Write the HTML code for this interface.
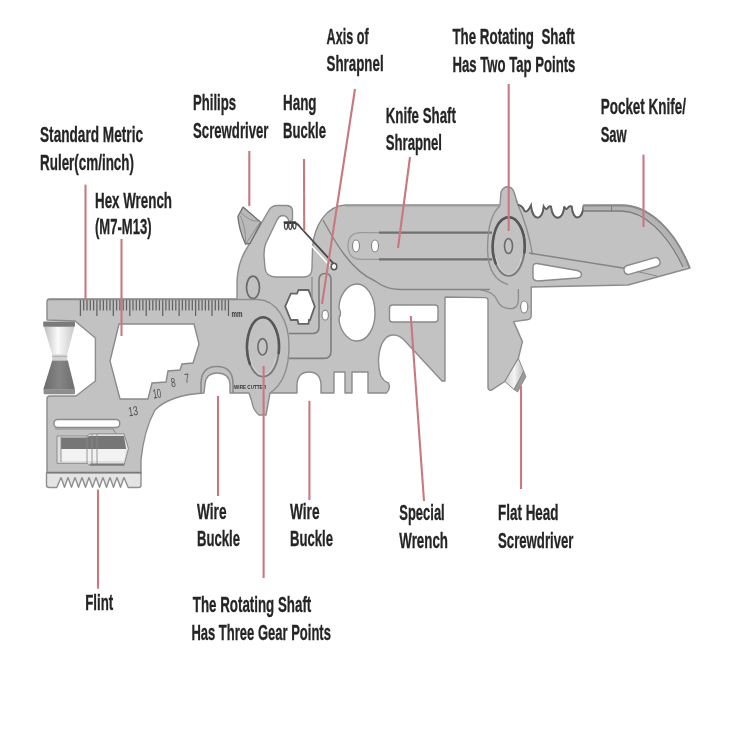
<!DOCTYPE html>
<html><head><meta charset="utf-8">
<style>
html,body{margin:0;padding:0;background:#fff;}
body{width:750px;height:750px;overflow:hidden;position:relative;}
svg{position:absolute;left:0;top:0;filter:blur(0.45px);}
.t{font-family:"Liberation Sans",sans-serif;font-size:21.5px;fill:#252525;font-weight:bold;stroke:#252525;stroke-width:0.3px;}
.r{stroke:#c97880;stroke-width:2.1;fill:none;}
.hole{fill:#fff;stroke:#8a8a8a;stroke-width:1.4;}
</style></head>
<body>
<svg width="750" height="750" viewBox="0 0 750 750">
<rect width="750" height="750" fill="#fff"/>
<g id="tool">
<path fill="#c2c2c2" stroke="#8c8c8c" stroke-width="1.4" stroke-linejoin="round" d="
M47,302 Q47,299 50,299 L237,299 L237,280 Q238,262 247,248 L269,210 Q272,205.5 277,205.5 L287,205.5 Q292.5,206 292.5,211 L292.5,220
L289,222 Q288,215.5 282,215.5 Q279,216 277,220 L266,243 Q264,248 264,256 L265,268 Q266,277 276,277 L304,277 Q312,277 312,268 L312.5,248
C314,226 326,206 345,205 L500,205 L501,192 Q503,186.7 508,186.7 Q512,187 514,192 L518,205
L518,205 Q522,205 524.5,211 Q527.5,213 531,205.5 C532.5,221.5 542.5,221.5 543.7,206.5 Q546,210.5 547.7,208 Q549.5,205.5 551,206.5 C552.5,221.5 563,221.5 564.3,206.5 Q566,210.5 567.7,208 Q569.5,205.5 571.7,206.5 C573,221.5 582.5,221.5 583.7,205
L622,205 C650,205 676,232 690,268 L628,285 L531.2,287 L531.2,316 Q531,319.5 527,319.8 L513.6,321.6 L522.4,341.6 L518.4,358.4 L504.8,381.5 L491,390.4 Q488,390.4 488,387 L488,300 Q488,297.6 485,297.6 L445,297 L445,381 L442,381 L405,341
C399,334 390,333 385,339 C378,347 377,364 380.5,375 Q383,381 388.5,383 Q391,389 386.5,393 L368,393 L368,372 L352,372 L352,393 L345,393 L345,372 L334,372 L334,393 L321,393
L321,384 Q320,372 309,372 Q298,372 297,384 L297,393 L270,393 L266,415 L259,415 Q253,410 252,402 L249,393 L230,393 L230,384 Q229,373 217,373 Q206,373 205,384 L204,393
Q170,395 155,410 Q144,430 141,460 L141,473 L47,473 L47,399 Q47,396 50,396 L76,396 L95.4,381 L95.4,338 L75,321 L47,320 Z"/>
<path class="hole" d="M119,324 L194,324 L199,344 L193,363 L182,364 L180,370 L168,371 L166,382 L152,383 L148,399 L120,399 L110,361 Z"/>
<path stroke="#626262" stroke-width="1.25" fill="none" d="M80.4,300V316M83.7,300V310.5M87.0,300V310.5M90.3,300V310.5M93.6,300V310.5M96.9,300V316M100.1,300V310.5M103.4,300V310.5M106.7,300V310.5M110.0,300V310.5M113.3,300V316M116.6,300V310.5M119.9,300V310.5M123.2,300V310.5M126.5,300V310.5M129.8,300V316M133.0,300V310.5M136.3,300V310.5M139.6,300V310.5M142.9,300V310.5M146.2,300V316M149.5,300V310.5M152.8,300V310.5M156.1,300V310.5M159.4,300V310.5M162.7,300V316M165.9,300V310.5M169.2,300V310.5M172.5,300V310.5M175.8,300V310.5M179.1,300V316M182.4,300V310.5M185.7,300V310.5M189.0,300V310.5M192.3,300V310.5M195.6,300V316M198.8,300V310.5M202.1,300V310.5M205.4,300V310.5M208.7,300V310.5M212.0,300V316M215.3,300V310.5M218.6,300V310.5M221.9,300V310.5M225.2,300V310.5M228.5,300V316"/>
<line x1="47" y1="299.5" x2="237" y2="299.5" stroke="#8a8a8a" stroke-width="1.6"/>
<text x="231.5" y="316.5" font-family="Liberation Sans" font-size="9" font-weight="bold" fill="#3a3a3a" textLength="11" lengthAdjust="spacingAndGlyphs">mm</text>
<defs><linearGradient id="gl" x1="0" x2="1"><stop offset="0" stop-color="#bdbdbd"/><stop offset="0.45" stop-color="#fbfbfb"/><stop offset="1" stop-color="#c9c9c9"/></linearGradient><linearGradient id="gd" x1="0" x2="1"><stop offset="0" stop-color="#6a6a6a"/><stop offset="0.5" stop-color="#858585"/><stop offset="1" stop-color="#6e6e6e"/></linearGradient><linearGradient id="gf1" x1="0" y1="0" x2="0" y2="1"><stop offset="0" stop-color="#777"/><stop offset="0.5" stop-color="#8a8a8a"/><stop offset="0.55" stop-color="#f2f2f2"/><stop offset="1" stop-color="#d0d0d0"/></linearGradient><linearGradient id="gfh" x1="0" x2="1"><stop offset="0" stop-color="#cfcfcf"/><stop offset="0.5" stop-color="#f4f4f4"/><stop offset="1" stop-color="#bdbdbd"/></linearGradient></defs>
<path fill="url(#gl)" d="M44,326.8 L74.4,326.8 L67.2,354.4 L52.2,354.4 Z"/>
<rect x="52.2" y="354.4" width="15" height="6" fill="#d2d2d2"/>
<line x1="52.2" y1="356.5" x2="67.2" y2="356.5" stroke="#a8a8a8" stroke-width="0.8"/>
<path fill="url(#gd)" d="M52.2,360.4 L67.8,360.4 L75,389.8 L43.2,389.8 Z"/>
<rect x="43.2" y="321.4" width="31.8" height="5.4" rx="1" fill="#7b7b7b"/>
<rect x="43.6" y="389.6" width="31.4" height="4.6" rx="1" fill="#8d8d8d"/>
<path fill="#b9b9b9" stroke="#6f6f6f" stroke-width="1.3" stroke-linejoin="round" d="M237.9,216.5 L243,207.1 L261,222.5 L250,243.5 L245.4,244 Q239,230 237.9,216.5 Z"/>
<path fill="none" stroke="#8a8a8a" stroke-width="0.9" d="M240.3,212 Q250,222 258,221 M240.5,216 Q246,228 245.6,243 M260,222.5 L245.6,244"/>
<path fill="none" stroke="#474747" stroke-width="1.8" stroke-linecap="round" d="M293,222.5 Q297.5,223 300.5,227.5 L333,263"/>
<path fill="none" stroke="#ffffff" stroke-width="1.6" d="M297.5,230.5 L330,266"/>
<path fill="none" stroke="#3f3f3f" stroke-width="2.6" stroke-linecap="round" d="M284.8,222.6 L295,222.6"/>
<path fill="none" stroke="#4a4a4a" stroke-width="1.3" d="M284.6,223 Q284,229.5 286.2,229.5 Q287.8,229.5 287.6,223 M288.8,223 Q288.4,229.5 290.4,229.5 Q292,229.5 291.8,223 M293,223 Q292.8,229 294.6,229 Q296,229 296,224"/>
<ellipse cx="334" cy="266.5" rx="2.8" ry="3.2" fill="#fff" stroke="#555" stroke-width="1.4"/>
<ellipse cx="253" cy="287.4" rx="6.5" ry="11.2" fill="none" stroke="#6a6a6a" stroke-width="1.7"/>
<path style="fill:#fff;stroke:#666;stroke-width:1.8" d="M285.2,306.4 L290.8,293.6 L297,293.6 L298.5,290 L308.5,290 L310,293.6 L314.8,306.4 L310,320 L309,320 L308.5,323.8 L298.5,323.8 L297.5,320 L290.8,320 Z"/>
<path fill="none" stroke="#7e7e7e" stroke-width="1.6" d="M319,327 L319,280 Q319,273.5 325.5,273.5 Q331,273.5 331,280 L331,351 Q331,358.4 324,358.4 L289,358.4"/>
<path fill="none" stroke="#7a7a7a" stroke-width="1.6" d="M289,333.5 L313,333.5 Q319,333.5 319,327"/>
<path fill="none" stroke="#8e8e8e" stroke-width="1.3" d="M312,277 L312,300"/>
<ellipse cx="325.2" cy="315.2" rx="3.2" ry="5" fill="#fff" stroke="#8a8a8a" stroke-width="1.2"/>
<path class="hole" d="M357,284 C367,284 375,297 375,313 C375,329 367,341 357,341 C347,341 339,329 339,318 Q342,313 339,308 C339,296 347,284 357,284 Z"/>
<rect class="hole" x="389.5" y="305" width="48.5" height="17" rx="3"/>
<ellipse cx="524.2" cy="307" rx="3.6" ry="6" fill="#fff" stroke="#8a8a8a" stroke-width="1.2"/>
<path fill="none" stroke="#8e8e8e" stroke-width="1.4" d="M480,289.6 Q494,292 497,300 Q500,308 510,308.8 Q518,309 518.4,300 L518.4,289"/>
<path fill="url(#gfh)" stroke="#8a8a8a" stroke-width="1" d="M518.4,358.4 L523.8,371.5 L514,389.5 L504.8,381.5 Z"/>
<path fill="#9a9a9a" stroke="#858585" stroke-width="0.8" d="M523.8,371.5 L526,376.5 L517.6,392 L514,389.5 Z"/>
<path fill="none" stroke="#8e8e8e" stroke-width="1.4" d="M237,299.5 L258,299.5 C276,300 289,320 289,346 C289,370 282,385 270,393"/>
<ellipse cx="263" cy="347" rx="16" ry="29.7" fill="none" stroke="#7a7a7a" stroke-width="1.8"/>
<path fill="none" stroke="#575757" stroke-width="2.6" stroke-linecap="round" d="M249.89,364.04 A16,29.7 0 1 1 278.65,353.17"/>
<path fill="none" stroke="#d4d4d4" stroke-width="1" d="M275.69,357.89 A13.5,26 0 0 1 250.31,357.89"/>
<ellipse cx="262.5" cy="346.8" rx="4.6" ry="8.2" fill="#c4c4c4" stroke="#6a6a6a" stroke-width="1.6"/>
<path fill="none" stroke="#8a8a8a" stroke-width="1.6" d="M201,393 L201,384 Q201,366.5 217,366.5 Q233,366.5 233,384 L233,393"/>
<text x="234" y="389" font-family="Liberation Sans" font-size="6" font-weight="bold" fill="#333" textLength="32" lengthAdjust="spacingAndGlyphs">WIRE CUTTER</text>
<g font-family="Liberation Sans" font-size="13" fill="#505050" lengthAdjust="spacingAndGlyphs"><text x="128" y="415.5" textLength="9.5" lengthAdjust="spacingAndGlyphs" transform="rotate(-8 133 409)">13</text><text x="152.5" y="398" textLength="8.5" lengthAdjust="spacingAndGlyphs" transform="rotate(-8 157 392)">10</text><text x="170.8" y="387" textLength="4.6" lengthAdjust="spacingAndGlyphs" transform="rotate(-8 173 382)">8</text><text x="184.5" y="382.8" textLength="4.6" lengthAdjust="spacingAndGlyphs" transform="rotate(-8 187 377)">7</text></g>
<rect class="hole" x="54" y="419.5" width="65.7" height="8" rx="3.5"/>
<path fill="none" stroke="#8f8f8f" stroke-width="1.2" d="M55,429 L113,429 L116,433.5"/>
<path fill="#e0e0e0" stroke="#8c8c8c" stroke-width="1" d="M57,436 L87,436 L90,433.8 L124,433.8 L128.5,448.5 L124,465.5 L90,465.5 L87,463.3 L57,463.3 Z"/>
<path fill="#767676" d="M61,437.5 L87,437.5 L89,436 L124,436 L126,449 L61,449 Z"/>
<path fill="#f2f2f2" d="M61,449 L126,449 L124,461 L61,461 Z"/>
<path fill="none" stroke="#8a8a8a" stroke-width="0.9" d="M61,437 V462 M87,436 V463.5 M92,434 V465 M97,434 V465"/>
<line x1="90" y1="464.3" x2="124" y2="464.3" stroke="#7a7a7a" stroke-width="1.5"/>
<path fill="#e4e4e4" stroke="#8f8f8f" stroke-width="1.4" stroke-linejoin="round" d="M46.5,472.6 L141,472.6 L141,485 Q141,487.5 138.5,487.5 L128.2,487.5 L124,477.6 L120.5,487.3 L117.0,477.6 L113.5,487.3 L110.0,477.6 L106.5,487.3 L103.0,477.6 L99.5,487.3 L96.0,477.6 L92.5,487.3 L89.0,477.6 L85.5,487.3 L82.0,477.6 L78.5,487.3 L75.0,477.6 L71.5,487.3 L68.0,477.6 L64.5,487.3 L61.0,477.6 L56.8,487.5 L49.5,487.5 Q46.5,487.5 46.5,485 Z"/>
<line x1="47" y1="472.6" x2="141" y2="472.6" stroke="#7a7a7a" stroke-width="1.6"/>
<path fill="none" stroke="#858585" stroke-width="1.4" d="M323,220 C334,240 350,270 375,281 Q385,289 400,289.5 L490,289.5"/>
<path fill="none" stroke="#9a9a9a" stroke-width="1.2" d="M379,232.6 L361,232.6 Q348,232.6 348,246 Q348,259.3 361,259.3 L379,259.3"/>
<path fill="none" stroke="#707070" stroke-width="2.2" d="M379,232.6 L492,232.6 M379,259.3 L492,259.3"/>
<ellipse cx="356" cy="246" rx="3.5" ry="6" fill="#fff" stroke="#888" stroke-width="1.2"/>
<ellipse cx="375" cy="246" rx="3.5" ry="6" fill="#fff" stroke="#888" stroke-width="1.2"/>
<line x1="345" y1="205.8" x2="500" y2="205.8" stroke="#9a9a9a" stroke-width="1.4"/>
<path fill="none" stroke="#8e8e8e" stroke-width="1.4" d="M500,206 C490,214 487.5,232 487.6,250 C488,270 496,281 508,284.5 M516,200 C524,218 530,238 532.5,255"/>
<ellipse cx="508.7" cy="246.5" rx="16" ry="29.3" fill="none" stroke="#7a7a7a" stroke-width="1.8"/>
<path fill="none" stroke="#575757" stroke-width="2.6" stroke-linecap="round" d="M495.59,263.31 A16,29.3 0 1 1 524.35,252.59"/>
<path fill="none" stroke="#d4d4d4" stroke-width="1" d="M521.39,257.39 A13.5,26 0 0 1 496.01,257.39"/>
<ellipse cx="508.5" cy="246" rx="4" ry="7.5" fill="#c4c4c4" stroke="#6a6a6a" stroke-width="1.6"/>
<path fill="none" stroke="#5e5e5e" stroke-width="1.9" d="M518,205 L518,205 Q522,205 524.5,211 Q527.5,213 531,205.5 C532.5,221.5 542.5,221.5 543.7,206.5 Q546,210.5 547.7,208 Q549.5,205.5 551,206.5 C552.5,221.5 563,221.5 564.3,206.5 Q566,210.5 567.7,208 Q569.5,205.5 571.7,206.5 C573,221.5 582.5,221.5 583.7,205"/>
<path fill="none" stroke="#b3b3b3" stroke-width="5" d="M583.5,208 L622,208 C647,208 671,231 686.5,266.5"/>
<path fill="none" stroke="#8a8a8a" stroke-width="1.6" d="M583.5,205.8 L622,205.6 C650,205.6 676,232 689.5,268"/>
<path fill="none" stroke="#7c7c7c" stroke-width="1.3" d="M583.5,211 L621,211 C644,211 667,233 683,267"/>
<line x1="611.6" y1="205" x2="611.6" y2="211.5" stroke="#7c7c7c" stroke-width="1"/>
<path fill="none" stroke="#858585" stroke-width="1.4" d="M529,253 L626,268.5"/>
<path class="hole" d="M537,263.5 L577,270.5 Q581.5,271.5 581.5,274.5 Q581.5,277.5 577,278 L538,281 Q533,281 533,276.5 L533,267.5 Q533,263 537,263.5 Z"/>
<path class="hole" transform="rotate(-16 642 266)" d="M628,261.5 L656,261.5 Q660.5,261.5 660.5,266 Q660.5,270.5 656,270.5 L628,270.5 Q623.5,270.5 623.5,266 Q623.5,261.5 628,261.5 Z"/>
<path fill="none" stroke="#888" stroke-width="1" d="M637,271.5 L657,276"/>
</g>
<g class="t">
<text x="40" y="142" textLength="103" lengthAdjust="spacingAndGlyphs">Standard Metric</text>
<text x="40" y="170" textLength="94" lengthAdjust="spacingAndGlyphs">Ruler(cm/inch)</text>
<text x="95" y="208" textLength="77" lengthAdjust="spacingAndGlyphs">Hex Wrench</text>
<text x="95" y="234" textLength="56.5" lengthAdjust="spacingAndGlyphs">(M7-M13)</text>
<text x="193" y="110" textLength="43" lengthAdjust="spacingAndGlyphs">Philips</text>
<text x="193" y="138" textLength="75.5" lengthAdjust="spacingAndGlyphs">Screwdriver</text>
<text x="283" y="110" textLength="33.5" lengthAdjust="spacingAndGlyphs">Hang</text>
<text x="283" y="138" textLength="43" lengthAdjust="spacingAndGlyphs">Buckle</text>
<text x="326.6" y="44" textLength="42" lengthAdjust="spacingAndGlyphs">Axis of</text>
<text x="326.6" y="71" textLength="57" lengthAdjust="spacingAndGlyphs">Shrapnel</text>
<text x="385.7" y="123" textLength="70.3" lengthAdjust="spacingAndGlyphs">Knife Shaft</text>
<text x="385.7" y="150" textLength="56.3" lengthAdjust="spacingAndGlyphs">Shrapnel</text>
<text x="452.4" y="44" textLength="122.4" lengthAdjust="spacingAndGlyphs">The Rotating&#160; Shaft</text>
<text x="452.4" y="71.5" textLength="123" lengthAdjust="spacingAndGlyphs">Has Two Tap Points</text>
<text x="600.7" y="114" textLength="85.3" lengthAdjust="spacingAndGlyphs">Pocket Knife/</text>
<text x="600.7" y="142" textLength="26" lengthAdjust="spacingAndGlyphs">Saw</text>
<text x="197" y="518.5" textLength="29.5" lengthAdjust="spacingAndGlyphs">Wire</text>
<text x="197" y="546" textLength="43" lengthAdjust="spacingAndGlyphs">Buckle</text>
<text x="290" y="518.5" textLength="29.5" lengthAdjust="spacingAndGlyphs">Wire</text>
<text x="290" y="546" textLength="43" lengthAdjust="spacingAndGlyphs">Buckle</text>
<text x="192.8" y="612" textLength="118.5" lengthAdjust="spacingAndGlyphs">The Rotating Shaft</text>
<text x="191.4" y="640" textLength="139.5" lengthAdjust="spacingAndGlyphs">Has Three Gear Points</text>
<text x="85.2" y="610" textLength="28" lengthAdjust="spacingAndGlyphs">Flint</text>
<text x="399.3" y="520" textLength="45.4" lengthAdjust="spacingAndGlyphs">Special</text>
<text x="399.3" y="548" textLength="48.7" lengthAdjust="spacingAndGlyphs">Wrench</text>
<text x="498" y="520" textLength="60.5" lengthAdjust="spacingAndGlyphs">Flat Head</text>
<text x="498" y="548" textLength="75.5" lengthAdjust="spacingAndGlyphs">Screwdriver</text>
</g>
<g class="r">
<line x1="85.5" y1="184.6" x2="85.5" y2="299"/>
<line x1="121.5" y1="239" x2="121.5" y2="336"/>
<line x1="249.3" y1="151" x2="249.3" y2="206"/>
<line x1="304" y1="159" x2="304.2" y2="230.5"/>
<line x1="355" y1="89" x2="322" y2="304"/>
<line x1="410" y1="157" x2="398" y2="248"/>
<line x1="508.7" y1="84" x2="508.7" y2="231"/>
<line x1="643.5" y1="154.6" x2="643.5" y2="227"/>
<line x1="218" y1="396" x2="218" y2="496"/>
<line x1="263.6" y1="366" x2="263.6" y2="578"/>
<line x1="309.4" y1="400.8" x2="309.4" y2="500"/>
<line x1="410.8" y1="316" x2="424" y2="501"/>
<line x1="521" y1="386" x2="521" y2="489"/>
<line x1="98" y1="489.5" x2="98" y2="588.7"/>
</g>
</svg>
</body></html>
